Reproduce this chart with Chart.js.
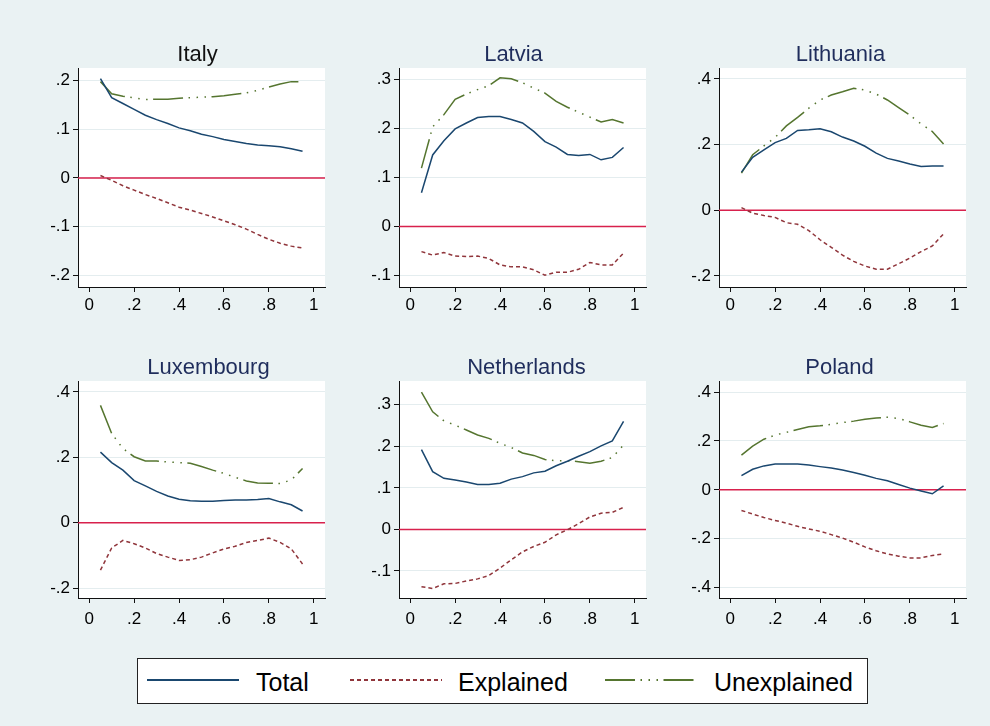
<!DOCTYPE html>
<html>
<head>
<meta charset="utf-8">
<script src="https://cdn.jsdelivr.net/npm/chart.js@4/dist/chart.umd.min.js"></script>
<style>
  html, body { margin: 0; padding: 0; }
  body { width: 990px; height: 726px; background: #eaf2f3; position: relative; overflow: hidden;
         font-family: "Liberation Sans", Arial, sans-serif; }
  canvas.panel { position: absolute; }
  #legend { position: absolute; left: 137px; top: 658px; width: 729px; height: 44px;
            background: #fff; border: 1px solid #222; }
  .lg-text { position: absolute; font-size: 25px; line-height: 24px; color: #000; white-space: nowrap; }
  .lg-swatch { position: absolute; }
</style>
</head>
<body>

<div id="legend"></div>

<script>
// Quantile grid on the horizontal axis
const quantiles = [0.05, 0.10, 0.15, 0.20, 0.25, 0.30, 0.35, 0.40, 0.45, 0.50,
                   0.55, 0.60, 0.65, 0.70, 0.75, 0.80, 0.85, 0.90, 0.95];
const xTicks = [0, 0.2, 0.4, 0.6, 0.8, 1];

const seriesNames = ['Total', 'Explained', 'Unexplained'];
const countries = ['Italy', 'Latvia', 'Lithuania', 'Luxembourg', 'Netherlands', 'Poland'];

// Italy
const italyTotal       = [0.204, 0.165, 0.153, 0.141, 0.129, 0.120, 0.112, 0.103, 0.097, 0.090, 0.085, 0.079, 0.075, 0.071, 0.068, 0.066, 0.064, 0.060, 0.055];
const italyExplained   = [0.005, -0.005, -0.016, -0.025, -0.034, -0.042, -0.051, -0.060, -0.066, -0.073, -0.080, -0.088, -0.096, -0.105, -0.116, -0.126, -0.134, -0.140, -0.144];
const italyUnexplained = [0.198, 0.173, 0.168, 0.165, 0.161, 0.162, 0.162, 0.164, 0.165, 0.166, 0.167, 0.169, 0.172, 0.175, 0.180, 0.187, 0.193, 0.198, 0.198];
const italyYTicks = [-0.2, -0.1, 0, 0.1, 0.2];

// Latvia
const latviaTotal       = [0.069, 0.146, 0.175, 0.199, 0.211, 0.222, 0.224, 0.224, 0.218, 0.211, 0.194, 0.173, 0.162, 0.147, 0.145, 0.147, 0.136, 0.141, 0.161];
const latviaExplained   = [-0.051, -0.058, -0.053, -0.060, -0.061, -0.060, -0.065, -0.078, -0.082, -0.082, -0.088, -0.099, -0.093, -0.093, -0.087, -0.073, -0.078, -0.078, -0.054];
const latviaUnexplained = [0.119, 0.203, 0.228, 0.259, 0.270, 0.279, 0.287, 0.303, 0.301, 0.293, 0.282, 0.272, 0.255, 0.243, 0.233, 0.223, 0.213, 0.218, 0.211];
const latviaYTicks = [-0.1, 0, 0.1, 0.2, 0.3];

// Lithuania
const lithuaniaTotal       = [0.116, 0.161, 0.184, 0.206, 0.219, 0.243, 0.245, 0.248, 0.239, 0.223, 0.211, 0.195, 0.174, 0.158, 0.150, 0.141, 0.133, 0.135, 0.135];
const lithuaniaExplained   = [0.008, -0.009, -0.016, -0.022, -0.038, -0.043, -0.062, -0.090, -0.113, -0.137, -0.156, -0.170, -0.180, -0.180, -0.163, -0.146, -0.126, -0.109, -0.072];
const lithuaniaUnexplained = [0.113, 0.169, 0.196, 0.222, 0.257, 0.283, 0.311, 0.336, 0.351, 0.361, 0.372, 0.366, 0.354, 0.336, 0.313, 0.290, 0.263, 0.240, 0.202];
const lithuaniaYTicks = [-0.2, 0, 0.2, 0.4];

// Luxembourg
const luxembourgTotal       = [0.216, 0.184, 0.161, 0.129, 0.113, 0.096, 0.082, 0.072, 0.067, 0.066, 0.066, 0.068, 0.070, 0.070, 0.071, 0.074, 0.064, 0.055, 0.036];
const luxembourgExplained   = [-0.145, -0.077, -0.054, -0.064, -0.077, -0.094, -0.105, -0.115, -0.113, -0.105, -0.092, -0.080, -0.072, -0.060, -0.054, -0.047, -0.060, -0.080, -0.126];
const luxembourgUnexplained = [0.359, 0.273, 0.227, 0.202, 0.189, 0.189, 0.186, 0.184, 0.182, 0.172, 0.161, 0.151, 0.139, 0.128, 0.122, 0.121, 0.120, 0.131, 0.166];
const luxembourgYTicks = [-0.2, 0, 0.2, 0.4];

// Netherlands
const netherlandsTotal       = [0.192, 0.139, 0.123, 0.119, 0.114, 0.108, 0.108, 0.111, 0.121, 0.127, 0.136, 0.140, 0.153, 0.164, 0.176, 0.187, 0.201, 0.213, 0.260];
const netherlandsExplained   = [-0.138, -0.142, -0.131, -0.130, -0.124, -0.119, -0.111, -0.093, -0.073, -0.054, -0.041, -0.031, -0.013, -0.001, 0.014, 0.030, 0.039, 0.041, 0.053];
const netherlandsUnexplained = [0.330, 0.283, 0.261, 0.251, 0.239, 0.227, 0.219, 0.207, 0.197, 0.184, 0.178, 0.168, 0.165, 0.165, 0.163, 0.159, 0.164, 0.173, 0.203];
const netherlandsYTicks = [-0.1, 0, 0.1, 0.2, 0.3];

// Poland
const polandTotal       = [0.058, 0.084, 0.098, 0.106, 0.106, 0.106, 0.102, 0.095, 0.089, 0.081, 0.071, 0.060, 0.047, 0.037, 0.022, 0.007, -0.005, -0.016, 0.016];
const polandExplained   = [-0.084, -0.099, -0.113, -0.125, -0.136, -0.149, -0.160, -0.169, -0.183, -0.197, -0.214, -0.233, -0.249, -0.262, -0.271, -0.278, -0.278, -0.268, -0.262];
const polandUnexplained = [0.142, 0.179, 0.207, 0.224, 0.235, 0.247, 0.258, 0.262, 0.268, 0.275, 0.281, 0.289, 0.294, 0.297, 0.292, 0.278, 0.264, 0.255, 0.271];
const polandYTicks = [-0.4, -0.2, 0, 0.2, 0.4];

// ---- styling ----
const FONT = '"Liberation Sans", Arial, sans-serif';
const COLORS = { total: '#1a476f', explained: '#90353b', unexplained: '#55752f', zero: '#d8214d' };
const DASH_EXPLAINED = [4, 3];
const DASH_UNEXPLAINED = [30, 5.5, 1.5, 6.5, 1.5, 6.5, 1.5, 5.5];

const panels = [
  { name: countries[0], total: italyTotal, explained: italyExplained, unexplained: italyUnexplained,
    yTicks: italyYTicks, yMin: -0.224, yMax: 0.226, col: 0, row: 0, titleColor: '#111111', titleDx: -4 },
  { name: countries[1], total: latviaTotal, explained: latviaExplained, unexplained: latviaUnexplained,
    yTicks: latviaYTicks, yMin: -0.123, yMax: 0.323, col: 1, row: 0, titleColor: '#1f2d5c', titleDx: -9 },
  { name: countries[2], total: lithuaniaTotal, explained: lithuaniaExplained, unexplained: lithuaniaUnexplained,
    yTicks: lithuaniaYTicks, yMin: -0.234, yMax: 0.4335, col: 2, row: 0, titleColor: '#1f2d5c', titleDx: -2 },
  { name: countries[3], total: luxembourgTotal, explained: luxembourgExplained, unexplained: luxembourgUnexplained,
    yTicks: luxembourgYTicks, yMin: -0.23, yMax: 0.4335, col: 0, row: 1, titleColor: '#1f2d5c', titleDx: 7 },
  { name: countries[4], total: netherlandsTotal, explained: netherlandsExplained, unexplained: netherlandsUnexplained,
    yTicks: netherlandsYTicks, yMin: -0.165, yMax: 0.357, col: 1, row: 1, titleColor: '#1f2d5c', titleDx: 4 },
  { name: countries[5], total: polandTotal, explained: polandExplained, unexplained: polandUnexplained,
    yTicks: polandYTicks, yMin: -0.442, yMax: 0.445, col: 2, row: 1, titleColor: '#1f2d5c', titleDx: -3 }
];

// Plot-region geometry of the 3 x 2 grid
const COL_LEFT = [78, 399, 719];
const ROW_TOP = [68, 381];
const ROW_H = [219, 217];
const ROW_XLABEL_PAD = [3, 6];
const PLOT_W = 247;
const LEFT_GUTTER = 62, RIGHT_PAD = 12, TOP_GUTTER = 40, BOTTOM_GUTTER = 35;

// Stata-style tick labels: ".2", "-.1", "0", "1"
function tickLabel(v) {
  const r = Math.round(v * 100) / 100;
  if (r === 0) return '0';
  const s = Math.abs(r).toString().replace(/^0\./, '.');
  return (r < 0 ? '-' : '') + s;
}

// White plot region behind the data
const plotBackground = {
  id: 'plotBackground',
  beforeDraw(chart) {
    const { ctx, chartArea: a } = chart;
    ctx.save();
    ctx.fillStyle = '#ffffff';
    ctx.fillRect(a.left, a.top, a.right - a.left, a.bottom - a.top);
    ctx.restore();
  }
};

// Panel heading centred over the plot region
const panelTitle = {
  id: 'panelTitle',
  afterDraw(chart, args, opts) {
    const { ctx, chartArea: a } = chart;
    ctx.save();
    ctx.font = '22px ' + FONT;
    ctx.fillStyle = opts.color;
    ctx.textAlign = 'center';
    ctx.textBaseline = 'alphabetic';
    ctx.fillText(opts.text, (a.left + a.right) / 2 + opts.dx, a.top - 7);
    ctx.restore();
  }
};

function points(ys) { return quantiles.map((q, i) => ({ x: q, y: ys[i] })); }

panels.forEach(p => {
  const canvas = document.createElement('canvas');
  canvas.className = 'panel';
  const w = LEFT_GUTTER + PLOT_W + RIGHT_PAD;
  const h = TOP_GUTTER + ROW_H[p.row] + BOTTOM_GUTTER;
  canvas.width = w; canvas.height = h;
  canvas.style.width = w + 'px'; canvas.style.height = h + 'px';
  canvas.style.left = (COL_LEFT[p.col] - LEFT_GUTTER) + 'px';
  canvas.style.top = (ROW_TOP[p.row] - TOP_GUTTER) + 'px';
  document.body.appendChild(canvas);

  const line = (label, data, color, dash) => ({
    label, data: points(data), borderColor: color, borderWidth: 1.5,
    borderDash: dash, pointRadius: 0, tension: 0, fill: false
  });

  new Chart(canvas, {
    type: 'line',
    data: {
      datasets: [
        line(seriesNames[0], p.total, COLORS.total, []),
        line(seriesNames[1], p.explained, COLORS.explained, DASH_EXPLAINED),
        line(seriesNames[2], p.unexplained, COLORS.unexplained, DASH_UNEXPLAINED),
        { label: 'zero', data: [{ x: -0.05, y: 0 }, { x: 1.05, y: 0 }], borderColor: COLORS.zero,
          borderWidth: 1.5, pointRadius: 0 }
      ]
    },
    options: {
      responsive: false,
      animation: false,
      devicePixelRatio: 1,
      layout: { padding: { left: 0, right: RIGHT_PAD, top: TOP_GUTTER, bottom: 0 } },
      plugins: {
        legend: { display: false },
        tooltip: { enabled: false },
        title: { display: false },
        panelTitle: { text: p.name, color: p.titleColor, dx: p.titleDx }
      },
      scales: {
        x: {
          type: 'linear', min: -0.05, max: 1.05,
          afterBuildTicks: axis => { axis.ticks = xTicks.map(v => ({ value: v })); },
          afterFit: scale => { scale.height = BOTTOM_GUTTER; },
          ticks: { callback: v => tickLabel(v), color: '#000', padding: ROW_XLABEL_PAD[p.row], maxRotation: 0,
                   font: { family: FONT, size: 17 } },
          grid: { display: true, drawOnChartArea: false, drawTicks: true, tickLength: 5,
                  tickColor: '#111', tickWidth: 1 },
          border: { display: true, color: '#111', width: 1 }
        },
        y: {
          type: 'linear', min: p.yMin, max: p.yMax,
          afterBuildTicks: axis => { axis.ticks = p.yTicks.map(v => ({ value: v })); },
          afterFit: scale => { scale.width = LEFT_GUTTER; },
          ticks: { callback: v => tickLabel(v), color: '#000', padding: 3,
                   font: { family: FONT, size: 17 } },
          grid: { display: true, drawOnChartArea: true, color: '#e4edef', lineWidth: 1,
                  drawTicks: true, tickLength: 5, tickColor: '#111', tickWidth: 1 },
          border: { display: true, color: '#111', width: 1 }
        }
      }
    },
    plugins: [plotBackground, panelTitle]
  });
});

// ---- shared key below the grid ----
const legend = document.getElementById('legend');
const legendItems = [
  { text: seriesNames[0], color: COLORS.total, dash: [], swatchLeft: 147, textLeft: 256 },
  { text: seriesNames[1], color: COLORS.explained, dash: DASH_EXPLAINED, swatchLeft: 350, textLeft: 458 },
  { text: seriesNames[2], color: COLORS.unexplained, dash: DASH_UNEXPLAINED, swatchLeft: 605, textLeft: 714 }
];
const LEG_X = 138, LEG_Y = 659;
legendItems.forEach(it => {
  const c = document.createElement('canvas');
  c.className = 'lg-swatch';
  c.width = 92; c.height = 6;
  c.style.left = (it.swatchLeft - LEG_X) + 'px';
  c.style.top = (680 - 3 - LEG_Y) + 'px';
  legend.appendChild(c);
  const g = c.getContext('2d');
  g.strokeStyle = it.color; g.lineWidth = 2; g.setLineDash(it.dash);
  g.beginPath(); g.moveTo(0, 3); g.lineTo(92, 3); g.stroke();

  const t = document.createElement('div');
  t.className = 'lg-text';
  t.textContent = it.text;
  t.style.left = (it.textLeft - LEG_X) + 'px';
  t.style.top = (670 - LEG_Y) + 'px';
  legend.appendChild(t);
});
</script>
</body>
</html>
